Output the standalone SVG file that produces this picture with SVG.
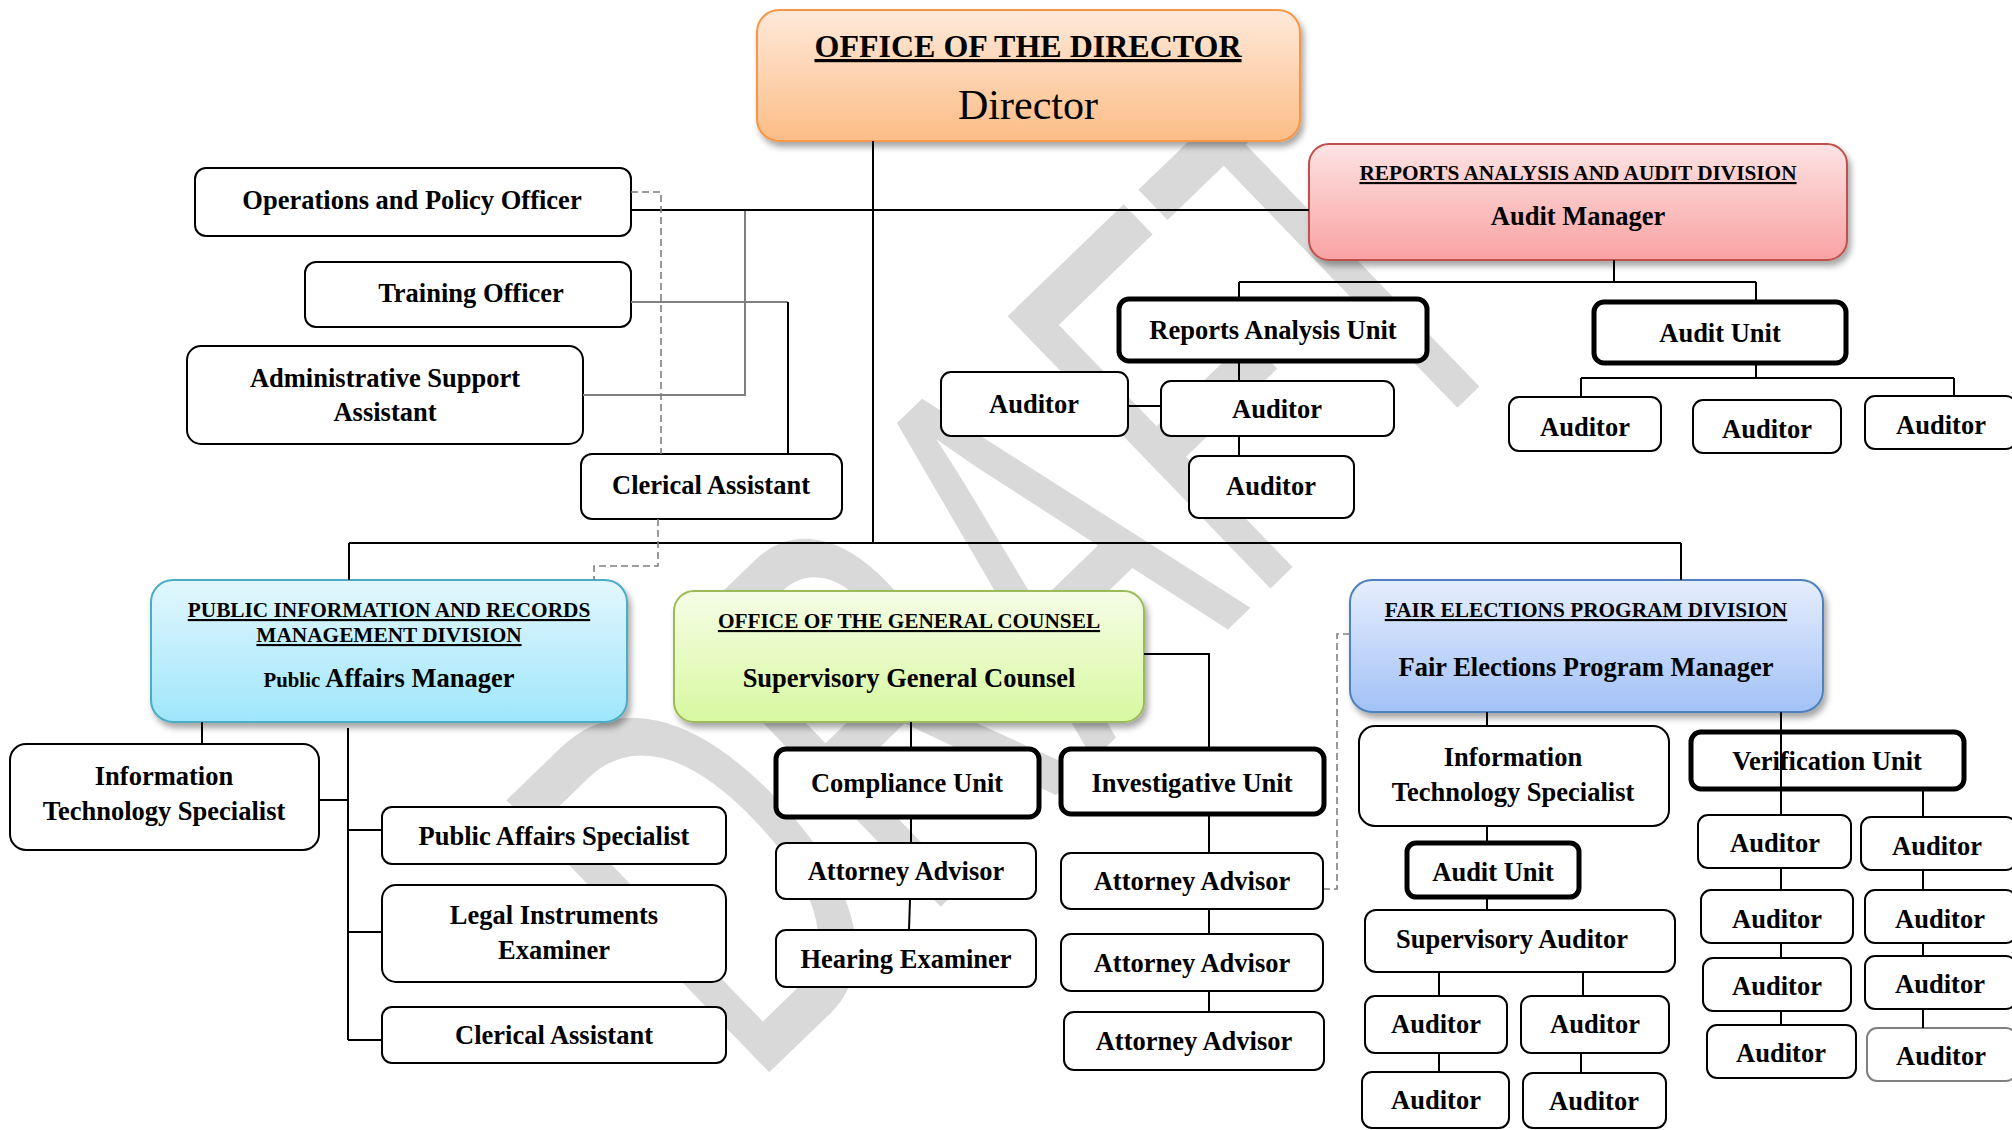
<svg xmlns="http://www.w3.org/2000/svg" width="2012" height="1130" viewBox="0 0 2012 1130">
<defs>
<style>
.box{fill:#fff;stroke:#000;stroke-width:2}
.unit{fill:#fff;stroke:#000;stroke-width:5}
.t{font-family:"Liberation Serif","Times New Roman",serif;font-weight:bold;font-size:26.5px;text-anchor:middle;fill:#000}
.ttl{font-size:21.3px;text-decoration:underline}
.ln{stroke:#000;stroke-width:2;fill:none}
.gl{stroke:#7f7f7f;stroke-width:2;fill:none}
.dash{stroke:#7f7f7f;stroke-width:1.6;stroke-dasharray:7 4;fill:none}
.wm{font-family:"Liberation Sans",Arial,sans-serif;font-size:550px;fill:#d9d9d9}
</style>
<filter id="sh" x="-10%" y="-10%" width="125%" height="135%">
<feDropShadow dx="3" dy="5" stdDeviation="3" flood-color="#000" flood-opacity="0.35"/>
</filter>
<linearGradient id="gDir" x1="0" y1="0" x2="0" y2="1"><stop offset="0" stop-color="#fee9da"/><stop offset="1" stop-color="#fcbd86"/></linearGradient>
<linearGradient id="gRed" x1="0" y1="0" x2="0" y2="1"><stop offset="0" stop-color="#fde3e3"/><stop offset="1" stop-color="#f9a2a2"/></linearGradient>
<linearGradient id="gBlue" x1="0" y1="0" x2="0" y2="1"><stop offset="0" stop-color="#e3f7fd"/><stop offset="1" stop-color="#9fe6fb"/></linearGradient>
<linearGradient id="gGreen" x1="0" y1="0" x2="0" y2="1"><stop offset="0" stop-color="#f5fde6"/><stop offset="1" stop-color="#d8f8a0"/></linearGradient>
<linearGradient id="gFep" x1="0" y1="0" x2="0" y2="1"><stop offset="0" stop-color="#e6eefd"/><stop offset="1" stop-color="#a2c1f6"/></linearGradient>
</defs>
<rect width="2012" height="1130" fill="#fff"/>
<g id="watermark"><text class="wm" x="-70" y="0" transform="translate(780,1062) rotate(-44) scale(0.6,1)">DRAFT</text></g>

<g id="director"><rect x="757" y="10" width="543" height="131" rx="22" fill="url(#gDir)" stroke="#f79646" stroke-width="2" filter="url(#sh)"/>
<text class="t" x="1028" y="57" style="font-size:32px;text-decoration:underline">OFFICE OF THE DIRECTOR</text>
<text class="t" x="1028" y="119" style="font-size:42px;font-weight:normal">Director</text></g>

<g id="ops"><rect class="box" x="195" y="168" width="436" height="68" rx="11"/><text class="t" x="412" y="209">Operations and Policy Officer</text></g>
<g id="training"><rect class="box" x="305" y="262" width="326" height="65" rx="11"/><text class="t" x="471" y="302">Training Officer</text></g>
<g id="admin"><rect class="box" x="187" y="346" width="396" height="98" rx="14"/><text class="t" x="385" y="387">Administrative Support</text><text class="t" x="385" y="421">Assistant</text></g>
<g id="clerical1"><rect class="box" x="581" y="454" width="261" height="65" rx="11"/><text class="t" x="711" y="494">Clerical Assistant</text></g>

<g id="raad"><rect x="1309" y="144" width="538" height="116" rx="20" fill="url(#gRed)" stroke="#c0504d" stroke-width="2" filter="url(#sh)"/>
<text class="t ttl" x="1578" y="180">REPORTS ANALYSIS AND AUDIT DIVISION</text>
<text class="t" x="1578" y="225">Audit Manager</text></g>
<g id="rau"><rect class="unit" x="1119" y="299" width="308" height="62" rx="10"/><text class="t" x="1273" y="339">Reports Analysis Unit</text></g>
<g id="au1"><rect class="unit" x="1594" y="302" width="252" height="61" rx="10"/><text class="t" x="1720" y="342">Audit Unit</text></g>
<g id="rau-a1"><rect class="box" x="941" y="372" width="187" height="64" rx="10"/><text class="t" x="1034" y="413">Auditor</text></g>
<g id="rau-a2"><rect class="box" x="1161" y="381" width="233" height="55" rx="10"/><text class="t" x="1277" y="418">Auditor</text></g>
<g id="rau-a3"><rect class="box" x="1189" y="456" width="165" height="62" rx="10"/><text class="t" x="1271" y="495">Auditor</text></g>
<g id="au1-a1"><rect class="box" x="1509" y="397" width="152" height="54" rx="10"/><text class="t" x="1585" y="436">Auditor</text></g>
<g id="au1-a2"><rect class="box" x="1693" y="400" width="148" height="53" rx="10"/><text class="t" x="1767" y="438">Auditor</text></g>
<g id="au1-a3"><rect class="box" x="1865" y="396" width="151" height="53" rx="10"/><text class="t" x="1941" y="434">Auditor</text></g>

<g id="pirm"><rect x="151" y="580" width="476" height="142" rx="22" fill="url(#gBlue)" stroke="#4bacc6" stroke-width="2" filter="url(#sh)"/>
<text class="t ttl" x="389" y="617">PUBLIC INFORMATION AND RECORDS</text>
<text class="t ttl" x="389" y="642">MANAGEMENT DIVISION</text>
<text class="t" x="389" y="687"><tspan style="font-size:20.8px">Public</tspan> Affairs Manager</text></g>
<g id="pirm-it"><rect class="box" x="10" y="744" width="309" height="106" rx="16"/><text class="t" x="164" y="785">Information</text><text class="t" x="164" y="820">Technology Specialist</text></g>
<g id="pas"><rect class="box" x="382" y="807" width="344" height="57" rx="10"/><text class="t" x="554" y="845">Public Affairs Specialist</text></g>
<g id="legal"><rect class="box" x="382" y="885" width="344" height="97" rx="14"/><text class="t" x="554" y="924">Legal Instruments</text><text class="t" x="554" y="959">Examiner</text></g>
<g id="clerical2"><rect class="box" x="382" y="1007" width="344" height="56" rx="10"/><text class="t" x="554" y="1044">Clerical Assistant</text></g>

<g id="ogc"><rect x="674" y="591" width="470" height="131" rx="20" fill="url(#gGreen)" stroke="#9bbb59" stroke-width="2" filter="url(#sh)"/>
<text class="t ttl" x="909" y="628">OFFICE OF THE GENERAL COUNSEL</text>
<text class="t" x="909" y="687">Supervisory General Counsel</text></g>
<g id="compliance"><rect class="unit" x="776" y="749" width="263" height="68" rx="10"/><text class="t" x="907" y="792">Compliance Unit</text></g>
<g id="investigative"><rect class="unit" x="1061" y="749" width="263" height="65" rx="10"/><text class="t" x="1192" y="792">Investigative Unit</text></g>
<g id="ogc-aa"><rect class="box" x="776" y="843" width="260" height="56" rx="10"/><text class="t" x="906" y="880">Attorney Advisor</text></g>
<g id="ogc-he"><rect class="box" x="776" y="930" width="260" height="57" rx="10"/><text class="t" x="906" y="968">Hearing Examiner</text></g>
<g id="iu-aa1"><rect class="box" x="1061" y="853" width="262" height="56" rx="10"/><text class="t" x="1192" y="890">Attorney Advisor</text></g>
<g id="iu-aa2"><rect class="box" x="1061" y="934" width="262" height="57" rx="10"/><text class="t" x="1192" y="972">Attorney Advisor</text></g>
<g id="iu-aa3"><rect class="box" x="1064" y="1012" width="260" height="58" rx="10"/><text class="t" x="1194" y="1050">Attorney Advisor</text></g>

<g id="fep"><rect x="1350" y="580" width="473" height="132" rx="22" fill="url(#gFep)" stroke="#4f81bd" stroke-width="2" filter="url(#sh)"/>
<text class="t ttl" x="1586" y="617">FAIR ELECTIONS PROGRAM DIVISION</text>
<text class="t" x="1586" y="676">Fair Elections Program Manager</text></g>
<g id="fep-it"><rect class="box" x="1359" y="726" width="310" height="100" rx="16"/><text class="t" x="1513" y="766">Information</text><text class="t" x="1513" y="801">Technology Specialist</text></g>
<g id="au2"><rect class="unit" x="1407" y="843" width="172" height="54" rx="9"/><text class="t" x="1493" y="881">Audit Unit</text></g>
<g id="sa"><rect class="box" x="1365" y="910" width="310" height="62" rx="11"/><text class="t" x="1512" y="948">Supervisory Auditor</text></g>
<g id="sa-a1"><rect class="box" x="1365" y="996" width="142" height="57" rx="10"/><text class="t" x="1436" y="1033">Auditor</text></g>
<g id="sa-a2"><rect class="box" x="1521" y="996" width="148" height="57" rx="10"/><text class="t" x="1595" y="1033">Auditor</text></g>
<g id="sa-a3"><rect class="box" x="1362" y="1072" width="147" height="56" rx="10"/><text class="t" x="1436" y="1109">Auditor</text></g>
<g id="sa-a4"><rect class="box" x="1523" y="1073" width="143" height="55" rx="10"/><text class="t" x="1594" y="1110">Auditor</text></g>
<g id="vu"><rect class="unit" x="1691" y="732" width="273" height="57" rx="10"/><text class="t" x="1827" y="770">Verification Unit</text></g>
<g id="vu-l1"><rect class="box" x="1698" y="815" width="153" height="53" rx="10"/><text class="t" x="1775" y="852">Auditor</text></g>
<g id="vu-r1"><rect class="box" x="1861" y="817" width="155" height="53" rx="10"/><text class="t" x="1937" y="855">Auditor</text></g>
<g id="vu-l2"><rect class="box" x="1701" y="890" width="152" height="53" rx="10"/><text class="t" x="1777" y="928">Auditor</text></g>
<g id="vu-r2"><rect class="box" x="1865" y="890" width="151" height="53" rx="10"/><text class="t" x="1940" y="928">Auditor</text></g>
<g id="vu-l3"><rect class="box" x="1703" y="958" width="148" height="53" rx="10"/><text class="t" x="1777" y="995">Auditor</text></g>
<g id="vu-r3"><rect class="box" x="1865" y="956" width="151" height="53" rx="10"/><text class="t" x="1940" y="993">Auditor</text></g>
<g id="vu-l4"><rect class="box" x="1707" y="1025" width="149" height="53" rx="10"/><text class="t" x="1781" y="1062">Auditor</text></g>
<g id="vu-r4"><rect class="box" x="1867" y="1028" width="149" height="53" rx="10" style="stroke:#7f7f7f"/><text class="t" x="1941" y="1065">Auditor</text></g>

<g id="connectors">
<path class="ln" d="M873 141V543M349 543H1681M349 543V580M1681 543V580"/>
<path class="gl" d="M745 210V395H583M631 302H788"/>
<path class="ln" d="M631 210H1309M788 302V454"/>
<path class="dash" d="M631 192H661V454M658 519V566H594V580"/>
<path class="ln" d="M1614 260V282M1239 282H1756M1239 282V299M1756 282V302M1239 361V381M1239 436V456M1128 406H1161"/>
<path class="ln" d="M1756 363V378M1581 378H1954M1581 378V397M1954 378V396"/>
<path class="ln" d="M202 722V744M348 728V1040M319 800H348M348 830H382M348 932H382M348 1040H382"/>
<path class="ln" d="M1144 654H1209V749M911 722V749M911 817V843M910 899L909 930M1209 814V853M1209 909V934M1209 991V1012"/>
<path class="dash" d="M1350 634H1337V889H1324"/>
<path class="ln" d="M1487 712V726M1487 826V843M1487 897V910M1439 972V996M1583 972V996M1439 1053V1072M1581 1053V1073"/>
<path class="ln" d="M1781 712V815M1781 868V890M1781 943V958M1781 1011V1025M1923 789V817M1923 870V890M1923 943V956M1923 1009V1028"/>
</g>
</svg>
